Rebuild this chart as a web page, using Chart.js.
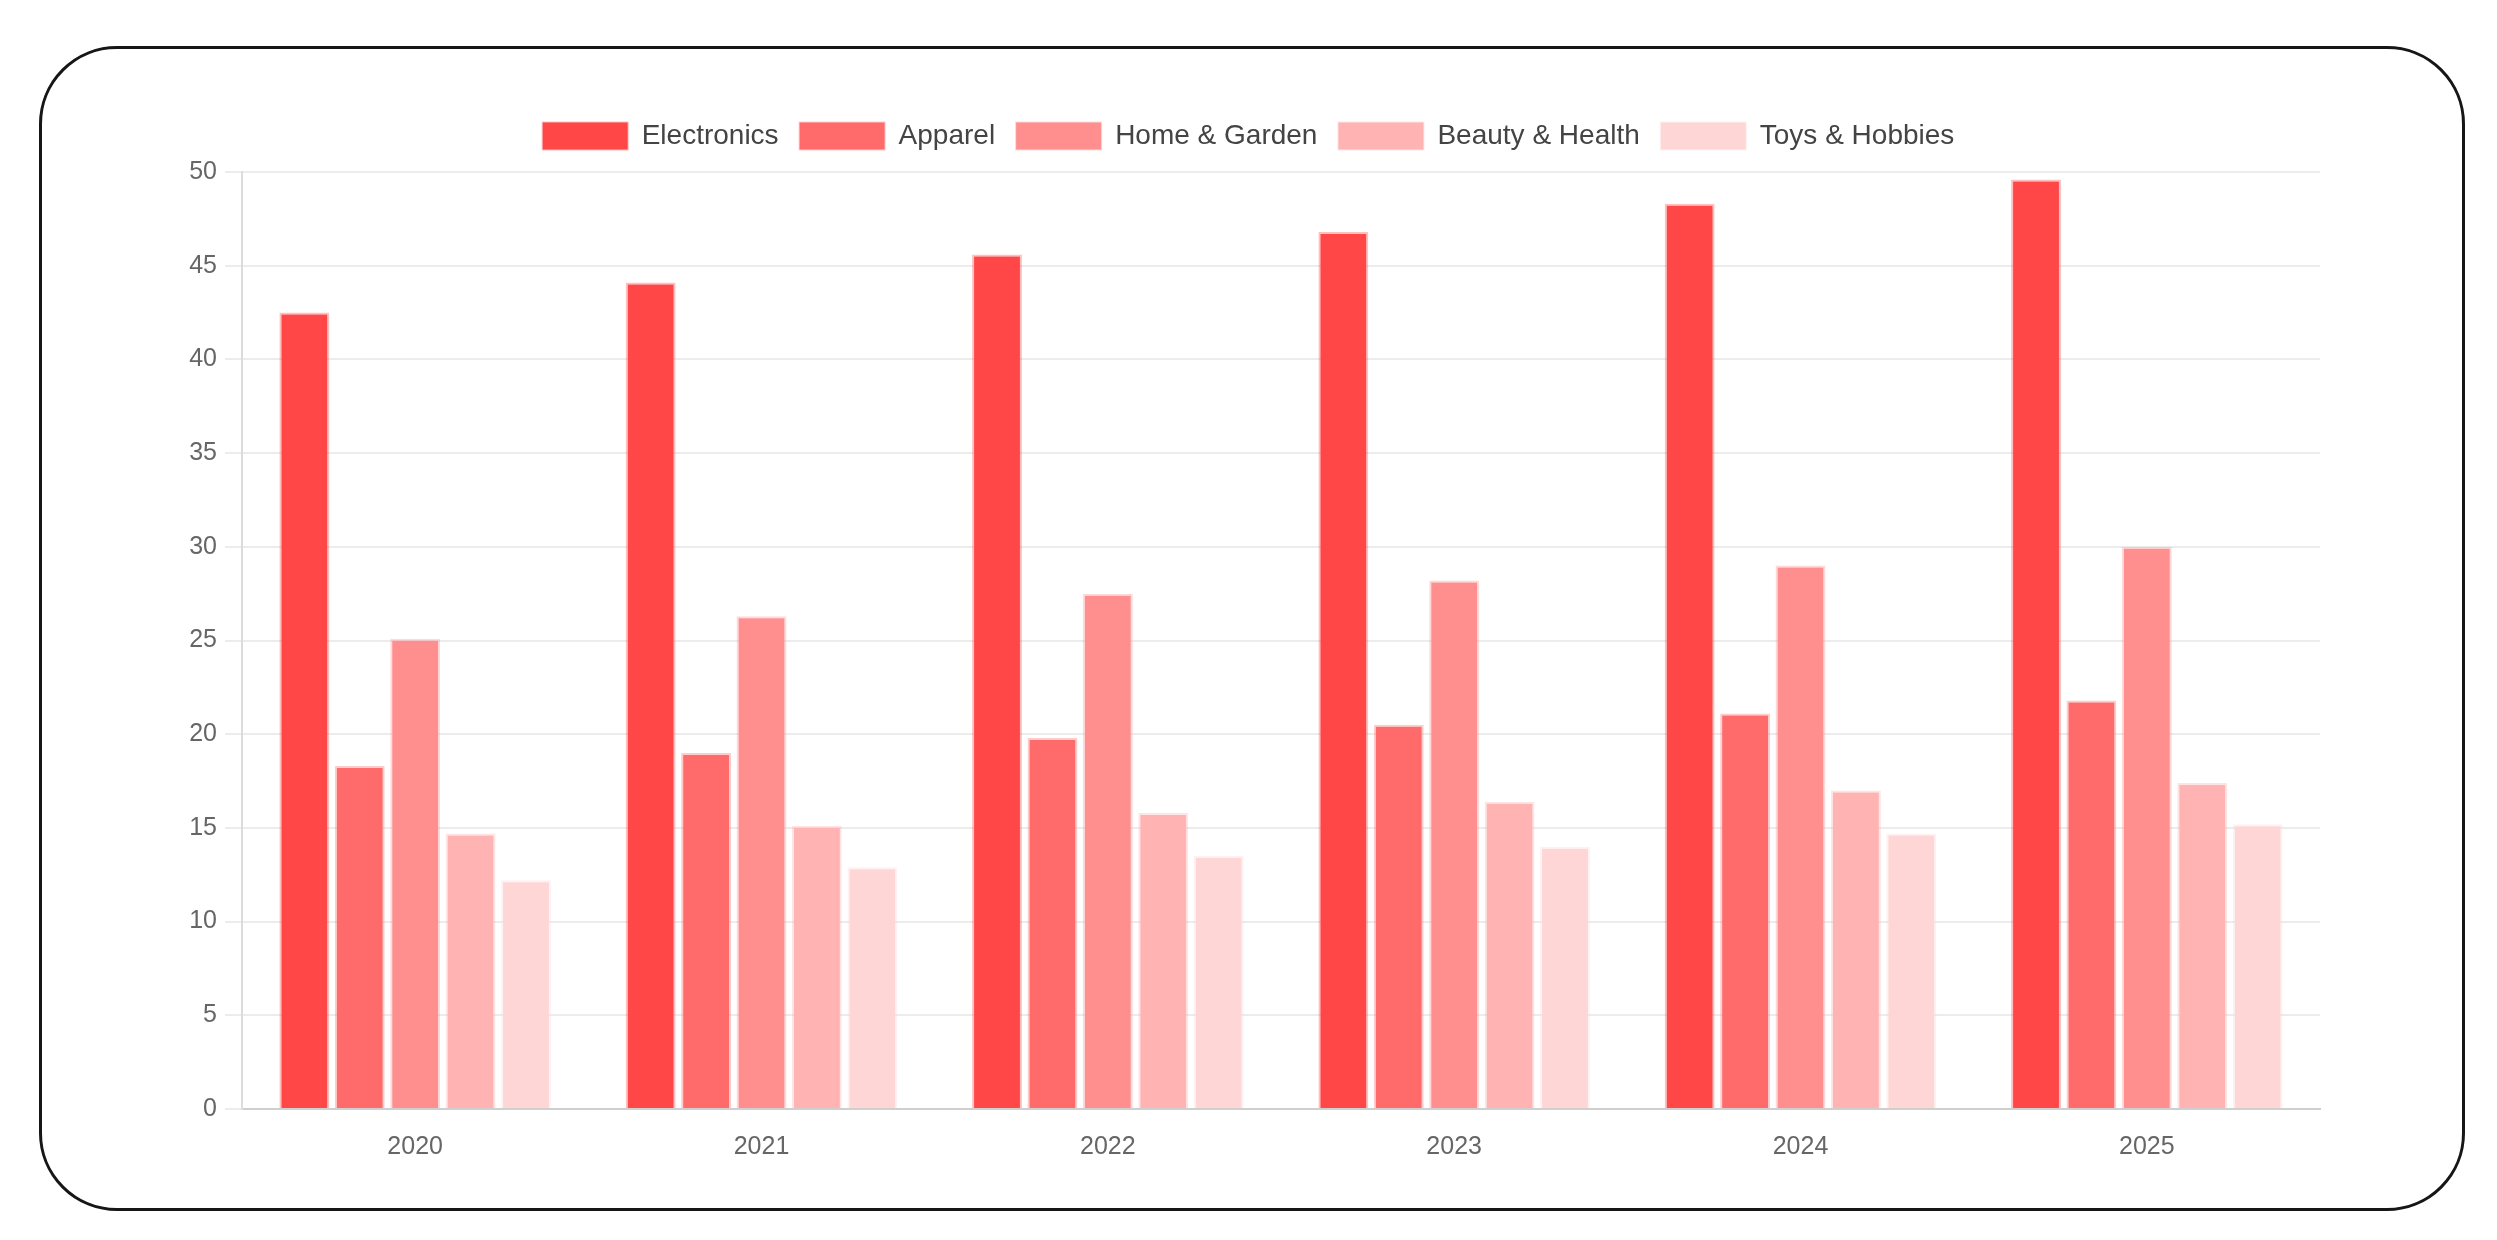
<!DOCTYPE html>
<html>
<head>
<meta charset="utf-8">
<script src="https://cdn.jsdelivr.net/npm/chart.js@4/dist/chart.umd.min.js"></script>
<style>
  html, body { margin: 0; padding: 0; background: #fff; }
  body { width: 2497px; height: 1240px; position: relative; overflow: hidden; }
  #frame { position: absolute; left: 39px; top: 46px; width: 2420px; height: 1159px;
           border: 3px solid #161616; border-radius: 78px; box-sizing: content-box; }
  #wrap { position: absolute; left: 0; top: 0; width: 2497px; height: 1240px; }
</style>
</head>
<body>
<div id="frame"></div>
<div id="wrap"><canvas id="c" width="2497" height="1240"></canvas></div>
<script>
const years = ['2020', '2021', '2022', '2023', '2024', '2025'];
const seriesNames = ['Electronics', 'Apparel', 'Home & Garden', 'Beauty & Health', 'Toys & Hobbies'];
const electronics = [42.5, 44.1, 45.6, 46.8, 48.3, 49.6];
const apparel = [18.3, 19.0, 19.8, 20.5, 21.1, 21.8];
const homeGarden = [25.1, 26.3, 27.5, 28.2, 29.0, 30.0];
const beautyHealth = [14.7, 15.1, 15.8, 16.4, 17.0, 17.4];
const toysHobbies = [12.2, 12.9, 13.5, 14.0, 14.7, 15.2];
const yTicks = [0, 5, 10, 15, 20, 25, 30, 35, 40, 45, 50];

const fills = ['rgb(255,71,71)', 'rgb(255,107,107)', 'rgb(255,143,143)', 'rgb(255,179,179)', 'rgb(255,214,214)'];
const borders = ['rgba(255,71,71,0.35)', 'rgba(255,107,107,0.35)', 'rgba(255,143,143,0.35)', 'rgba(255,179,179,0.35)', 'rgba(255,214,214,0.35)'];
const allValues = [electronics, apparel, homeGarden, beautyHealth, toysHobbies];

const datasets = seriesNames.map((name, i) => ({
  label: name,
  data: allValues[i],
  backgroundColor: fills[i],
  borderColor: borders[i],
  borderWidth: 2
}));

const legendSpacer = {
  id: 'legendSpacer',
  beforeInit(chart) {
    const origFit = chart.legend.fit;
    chart.legend.fit = function () {
      origFit.call(this);
      this.height += 12;
    };
  }
};

new Chart(document.getElementById('c'), {
  type: 'bar',
  data: { labels: years, datasets },
  plugins: [legendSpacer],
  options: {
    responsive: false,
    animation: false,
    devicePixelRatio: 1,
    layout: { padding: { left: 177, right: 177, top: 101, bottom: 71 } },
    plugins: {
      legend: {
        position: 'top',
        labels: {
          boxWidth: 85,
          boxHeight: 27,
          padding: 21,
          color: '#444',
          font: { family: "'Liberation Sans', Arial, sans-serif", size: 28 }
        }
      },
      tooltip: { enabled: false }
    },
    scales: {
      x: {
        grid: { display: false, tickLength: 17 },
        border: { display: true, color: '#cfcfcf', width: 2 },
        ticks: { color: '#666', padding: 6, font: { family: "'Liberation Sans', Arial, sans-serif", size: 25 } },
        afterFit(scale) { scale.height = 60; }
      },
      y: {
        min: 0,
        max: 50,
        afterBuildTicks(scale) { scale.ticks = yTicks.map(v => ({ value: v })); },
        grid: { color: '#ececec', lineWidth: 2, tickLength: 17 },
        border: { display: true, color: '#dcdcdc', width: 2 },
        ticks: { color: '#666', padding: 8, font: { family: "'Liberation Sans', Arial, sans-serif", size: 25 } },
        afterFit(scale) { scale.width = 65; }
      }
    }
  }
});
</script>
</body>
</html>
